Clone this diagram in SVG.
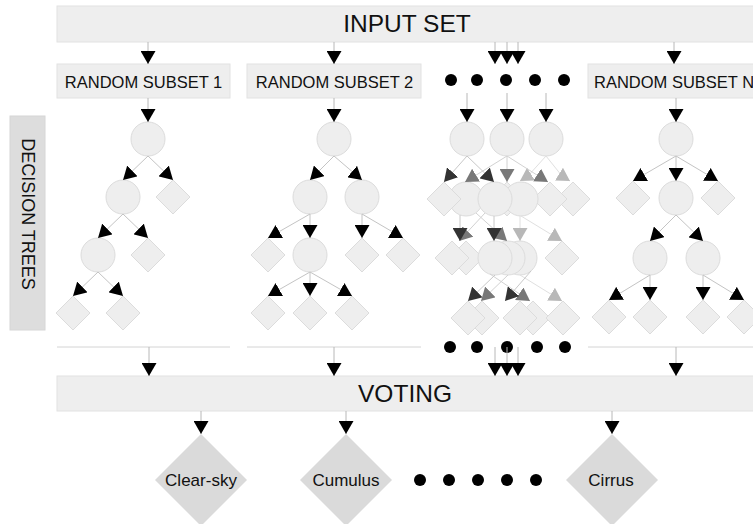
<svg xmlns="http://www.w3.org/2000/svg" xmlns:xlink="http://www.w3.org/1999/xlink" width="753" height="524" viewBox="0 0 753 524">
<style>
.box{fill:#eeeeee;stroke:#e2e2e2;stroke-width:1}
.side{fill:#dddddd;stroke:#d6d6d6}
.n{fill:#eeeeee;stroke:#dcdcdc;stroke-width:1}
.out{fill:#dadada}
.t{font-family:"Liberation Sans",Arial,sans-serif;fill:#111}
.c{stroke:#c4c4c4;stroke-width:1;fill:none;marker-end:url(#ah)}
.v{stroke:#b8b8b8;stroke-width:1;fill:none;marker-end:url(#ah)}
.cd{stroke:#c8c8c8;stroke-width:1;fill:none;marker-end:url(#ahd)}
.cm{stroke:#d2d2d2;stroke-width:1;fill:none;marker-end:url(#ahm)}
.cl{stroke:#e0e0e0;stroke-width:1;fill:none;marker-end:url(#ahl)}
.h{stroke:#d4d4d4;stroke-width:1}
.dot{fill:#000}
</style>
<defs>
<marker id="ah" viewBox="0 0 13 15" refX="13" refY="7.5" markerWidth="13" markerHeight="15" markerUnits="userSpaceOnUse" orient="auto"><path d="M0,0L13,7.5L0,15z" fill="#000"/></marker>
<marker id="ahd" viewBox="0 0 13 15" refX="13" refY="7.5" markerWidth="13" markerHeight="15" markerUnits="userSpaceOnUse" orient="auto"><path d="M0,0L13,7.5L0,15z" fill="#333"/></marker>
<marker id="ahm" viewBox="0 0 13 15" refX="13" refY="7.5" markerWidth="13" markerHeight="15" markerUnits="userSpaceOnUse" orient="auto"><path d="M0,0L13,7.5L0,15z" fill="#787878"/></marker>
<marker id="ahl" viewBox="0 0 13 15" refX="13" refY="7.5" markerWidth="13" markerHeight="15" markerUnits="userSpaceOnUse" orient="auto"><path d="M0,0L13,7.5L0,15z" fill="#b8b8b8"/></marker>
<polygon id="dia" class="n" points="0,-17 17,0 0,17 -17,0"/>
<circle id="cir" class="n" r="17"/>
<polygon id="odia" class="out" points="0,-46 46,0 0,46 -46,0"/>
</defs>

<g id="input-set">
<rect class="box" x="57" y="6" width="720" height="36"/>
<text class="t" x="407" y="32" font-size="24.5" text-anchor="middle">INPUT SET</text>
</g>

<g id="subset-1">
<rect class="box" x="57" y="64" width="173" height="34"/>
<text class="t" x="143.5" y="88" font-size="16.5" text-anchor="middle">RANDOM SUBSET 1</text>
</g>
<g id="subset-2">
<rect class="box" x="247" y="64" width="174" height="34"/>
<text class="t" x="334.5" y="88" font-size="16.5" text-anchor="middle">RANDOM SUBSET 2</text>
</g>
<g id="subset-n">
<rect class="box" x="588" y="64" width="190" height="34"/>
<text class="t" x="594" y="88" font-size="16.5">RANDOM SUBSET N</text>
</g>

<g id="decision-trees-label">
<rect class="side" x="10" y="116" width="35" height="214"/>
<text class="t" transform="translate(22,214) rotate(90)" font-size="18" text-anchor="middle">DECISION TREES</text>
</g>

<g id="dots-top">
<circle class="dot" cx="451" cy="80" r="6"/><circle class="dot" cx="477" cy="80" r="6"/><circle class="dot" cx="506" cy="80" r="6"/><circle class="dot" cx="535" cy="80" r="6"/><circle class="dot" cx="564" cy="80" r="6"/>
</g>
<g id="dots-bottom">
<circle class="dot" cx="450" cy="347" r="6"/><circle class="dot" cx="477" cy="347" r="6"/><circle class="dot" cx="507" cy="347" r="6"/><circle class="dot" cx="537" cy="347" r="6"/><circle class="dot" cx="565" cy="347" r="6"/>
</g>
<g id="dots-output">
<circle class="dot" cx="420" cy="480" r="6"/><circle class="dot" cx="449" cy="480" r="6"/><circle class="dot" cx="478" cy="480" r="6"/><circle class="dot" cx="507" cy="480" r="6"/><circle class="dot" cx="536" cy="480" r="6"/>
</g>

<g id="tree-1">
<use href="#cir" x="148" y="139"/>
<use href="#cir" x="123" y="197"/><use href="#dia" x="173" y="197"/>
<use href="#cir" x="98" y="255"/><use href="#dia" x="148" y="255"/>
<use href="#dia" x="73" y="313"/><use href="#dia" x="123" y="313"/>
</g>

<g id="tree-2">
<use href="#cir" x="334" y="139"/>
<use href="#cir" x="310" y="197"/><use href="#cir" x="362" y="197"/>
<use href="#dia" x="268" y="255"/><use href="#cir" x="310" y="255"/><use href="#dia" x="362" y="255"/><use href="#dia" x="403" y="255"/>
<use href="#dia" x="268" y="313"/><use href="#dia" x="310" y="313"/><use href="#dia" x="352" y="313"/>
</g>

<g id="tree-stack">
<use href="#cir" x="467" y="139"/><use href="#cir" x="507" y="139"/><use href="#cir" x="546" y="139"/>
<use href="#cir" x="466" y="199"/><use href="#dia" x="444" y="199"/><use href="#dia" x="507" y="199"/><use href="#dia" x="573" y="199"/><use href="#dia" x="550" y="199"/><use href="#cir" x="521" y="199"/><use href="#cir" x="495" y="199"/>
<use href="#dia" x="466" y="258"/><use href="#dia" x="452" y="258"/><use href="#dia" x="562" y="258"/><use href="#cir" x="520" y="258"/><use href="#cir" x="508" y="258"/><use href="#cir" x="495" y="258"/>
<use href="#dia" x="482" y="318"/><use href="#dia" x="468" y="318"/><use href="#dia" x="533" y="318"/><use href="#dia" x="520" y="318"/><use href="#dia" x="563" y="318"/>
</g>

<g id="tree-n">
<use href="#cir" x="676" y="139"/>
<use href="#dia" x="633" y="198"/><use href="#cir" x="676" y="198"/><use href="#dia" x="718" y="198"/>
<use href="#cir" x="650" y="258"/><use href="#cir" x="703" y="258"/>
<use href="#dia" x="609" y="317"/><use href="#dia" x="650" y="317"/><use href="#dia" x="703" y="317"/><use href="#dia" x="744" y="317"/>
</g>

<g id="voting">
<rect class="box" x="57" y="376" width="720" height="35"/>
<text class="t" x="405" y="402" font-size="24.5" text-anchor="middle">VOTING</text>
</g>

<g id="out-clear-sky">
<use href="#odia" x="201" y="480"/>
<text class="t" x="201" y="486" font-size="17" text-anchor="middle">Clear-sky</text>
</g>
<g id="out-cumulus">
<use href="#odia" x="346" y="480"/>
<text class="t" x="346" y="486" font-size="17" text-anchor="middle">Cumulus</text>
</g>
<g id="out-cirrus">
<use href="#odia" x="612" y="480"/>
<text class="t" x="611" y="486" font-size="17" text-anchor="middle">Cirrus</text>
</g>

<g id="connectors">
<line class="v" x1="148" y1="42" x2="148" y2="64"/>
<line class="v" x1="334" y1="42" x2="334" y2="64"/>
<line class="v" x1="495" y1="42" x2="495" y2="64"/>
<line class="v" x1="507" y1="42" x2="507" y2="64"/>
<line class="v" x1="518" y1="42" x2="518" y2="64"/>
<line class="v" x1="674" y1="42" x2="674" y2="64"/>

<line class="v" x1="148" y1="98" x2="148" y2="122"/>
<line class="v" x1="334" y1="98" x2="334" y2="122"/>
<line class="v" x1="676" y1="98" x2="676" y2="122"/>
<line class="v" x1="467" y1="93" x2="467" y2="122"/>
<line class="v" x1="507" y1="93" x2="507" y2="122"/>
<line class="v" x1="546" y1="93" x2="546" y2="122"/>

<line class="c" x1="148" y1="156" x2="123" y2="180"/>
<line class="c" x1="148" y1="156" x2="173" y2="180"/>
<line class="c" x1="123" y1="214" x2="98" y2="238"/>
<line class="c" x1="123" y1="214" x2="148" y2="238"/>
<line class="c" x1="98" y1="272" x2="73" y2="296"/>
<line class="c" x1="98" y1="272" x2="123" y2="296"/>

<line class="c" x1="334" y1="156" x2="310" y2="180"/>
<line class="c" x1="334" y1="156" x2="362" y2="180"/>
<line class="c" x1="310" y1="214" x2="268" y2="238"/>
<line class="c" x1="310" y1="214" x2="310" y2="238"/>
<line class="c" x1="362" y1="214" x2="362" y2="238"/>
<line class="c" x1="362" y1="214" x2="403" y2="238"/>
<line class="c" x1="310" y1="272" x2="268" y2="296"/>
<line class="c" x1="310" y1="272" x2="310" y2="296"/>
<line class="c" x1="310" y1="272" x2="352" y2="296"/>

<line class="c" x1="676" y1="156" x2="633" y2="181"/>
<line class="c" x1="676" y1="156" x2="676" y2="181"/>
<line class="c" x1="676" y1="156" x2="718" y2="181"/>
<line class="c" x1="676" y1="215" x2="650" y2="241"/>
<line class="c" x1="676" y1="215" x2="703" y2="241"/>
<line class="c" x1="650" y1="275" x2="609" y2="300"/>
<line class="c" x1="650" y1="275" x2="650" y2="300"/>
<line class="c" x1="703" y1="275" x2="703" y2="300"/>
<line class="c" x1="703" y1="275" x2="744" y2="300"/>

<path class="cl" d="M546,156 L528,176 L520,181"/>
<path class="cl" d="M546,156 L562,176 L570,181"/>
<line class="cl" x1="520" y1="216" x2="520" y2="241"/>
<line class="cl" x1="521" y1="216" x2="562" y2="241"/>
<line class="cl" x1="520" y1="275" x2="562" y2="301"/>
<line class="cm" x1="507" y1="156" x2="465" y2="182"/>
<line class="cm" x1="507" y1="156" x2="507" y2="182"/>
<line class="cm" x1="507" y1="156" x2="548" y2="182"/>
<line class="cm" x1="485" y1="213" x2="459" y2="241"/>
<line class="cm" x1="476" y1="213" x2="507" y2="241"/>
<line class="cm" x1="508" y1="275" x2="481" y2="301"/>
<line class="cm" x1="490" y1="274" x2="530" y2="301"/>
<line class="cd" x1="467" y1="156" x2="444" y2="182"/>
<line class="cd" x1="467" y1="156" x2="494" y2="182"/>
<line class="cd" x1="460" y1="215" x2="460" y2="241"/>
<line class="cd" x1="494" y1="216" x2="494" y2="241"/>
<line class="cd" x1="495" y1="275" x2="468" y2="301"/>
<line class="cd" x1="531" y1="271" x2="505" y2="301"/>

<line class="h" x1="57" y1="347" x2="230" y2="347"/>
<line class="h" x1="247" y1="347" x2="421" y2="347"/>
<line class="h" x1="588" y1="347" x2="753" y2="347"/>
<line class="v" x1="149" y1="347" x2="149" y2="376"/>
<line class="v" x1="334" y1="347" x2="334" y2="376"/>
<line class="v" x1="495" y1="347" x2="495" y2="376"/>
<line class="v" x1="507" y1="347" x2="507" y2="376"/>
<line class="v" x1="518" y1="347" x2="518" y2="376"/>
<line class="v" x1="676" y1="347" x2="676" y2="376"/>

<line class="v" x1="201" y1="411" x2="201" y2="434"/>
<line class="v" x1="346" y1="411" x2="346" y2="434"/>
<line class="v" x1="612" y1="411" x2="612" y2="434"/>
</g>
</svg>
